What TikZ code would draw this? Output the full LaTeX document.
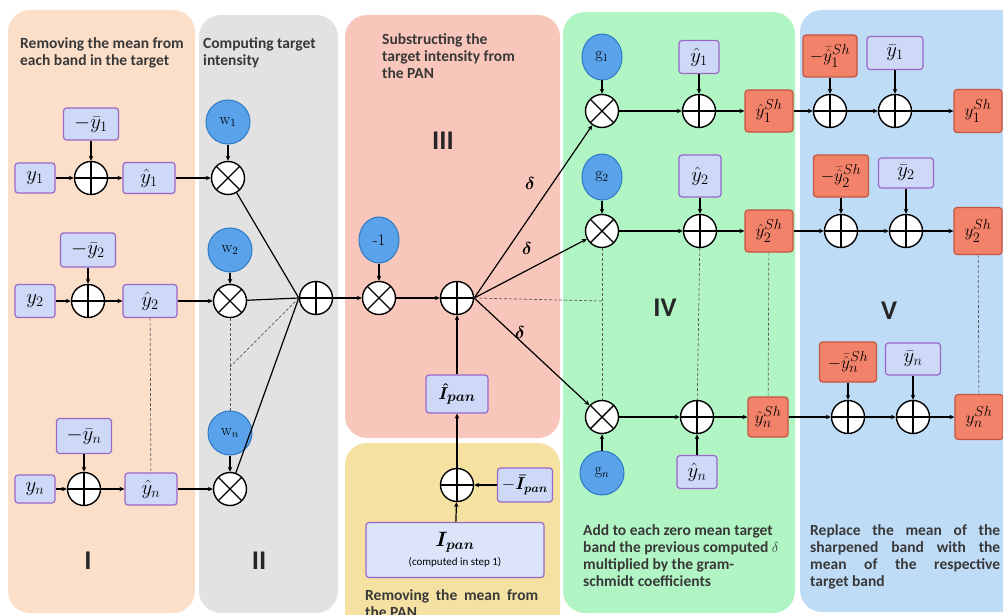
\documentclass[tikz,border=0pt]{standalone}
\usepackage{amsmath}
\usepackage{fontspec}
\newfontfamily\carl{Carlito}
\usetikzlibrary{shapes.geometric,arrows.meta}
\definecolor{pI}{HTML}{FCDFC9}
\definecolor{pII}{HTML}{E2E2E2}
\definecolor{pIII}{HTML}{F9C6BB}
\definecolor{pY}{HTML}{F5E2A3}
\definecolor{pIV}{HTML}{B2F5C5}
\definecolor{pV}{HTML}{BFDCF7}
\definecolor{bxf}{HTML}{CDD9F7}
\definecolor{bxd}{HTML}{9A66C8}
\definecolor{rdf}{HTML}{F2826A}
\definecolor{rdd}{HTML}{C4553F}
\definecolor{blf}{HTML}{5AA3EA}
\definecolor{bld}{HTML}{2C78C4}
\definecolor{txt}{HTML}{383838}
\begin{document}
\begin{tikzpicture}[x=1pt,y=-1pt,
 pbox/.style={draw=bxd,fill=bxf,line width=1.2pt,rounded corners=3pt,inner sep=0pt,font=\fontsize{21}{23}\selectfont},
 rbox/.style={draw=rdd,fill=rdf,line width=1.2pt,rounded corners=3pt,inner sep=0pt,font=\fontsize{19}{21}\selectfont},
 bcirc/.style={circle,draw=bld,fill=blf,line width=1pt,minimum size=44pt,inner sep=0pt,font=\fontsize{16}{18}\selectfont},
 bell/.style={ellipse,draw=bld,fill=blf,line width=1pt,minimum width=40pt,minimum height=46pt,inner sep=0pt,font=\fontsize{16}{18}\selectfont},
 opc/.style={circle,draw,fill=white,line width=1.4pt,minimum size=33pt,inner sep=0pt},
 oplus/.style={opc,path picture={\draw[line width=1.4pt] (path picture bounding box.north)--(path picture bounding box.south) (path picture bounding box.west)--(path picture bounding box.east);}},
 otimes/.style={opc,path picture={\draw[line width=1.4pt] (path picture bounding box.north west)--(path picture bounding box.south east) (path picture bounding box.north east)--(path picture bounding box.south west);}},
 arr/.style={-{Stealth[length=5pt,width=4.5pt]},line width=1.2pt},
 ln/.style={line width=1.2pt},
 dsh/.style={line width=0.7pt,draw=black!65,dash pattern=on 3pt off 2pt},
 ttl/.style={font=\carl\bfseries\fontsize{15.5}{17}\selectfont,text=txt,align=left,anchor=north west,inner sep=0pt},
 num/.style={font=\carl\bfseries\fontsize{27}{30}\selectfont,text=black!85},
 panel/.style={rounded corners=22pt}
]
\useasboundingbox (0,0) rectangle (1003,615);
\clip (0,0) rectangle (1003,615);
\fill[white] (0,0) rectangle (1003,615);
% panels
\fill[pI,panel] (8,10) rectangle (195,613);
\fill[pII,panel] (199,15) rectangle (338,613);
\fill[pIII,panel] (345,15) rectangle (560,438);
\fill[pY,panel] (345,443) rectangle (560,660);
\fill[pIV,panel] (563,12) rectangle (795,613);
\fill[pV,panel] (800,10) rectangle (1040,612);
% titles
\node[ttl] (t1) at (20,37) {Removing the mean from\\each band in the target};
\node[ttl] (t2) at (203,37) {Computing target\\intensity};
\node[ttl] (t3) at (382,33) {Substructing the\\target intensity from\\the PAN};
\node[ttl] (t4) at (583,524) {Add to each zero mean target\\band the previous computed $\delta$\\multiplied by the gram-\\schmidt coefficients};
\node[ttl] (t5) at (810,524) {\makebox[190pt][s]{Replace the mean of the}\\\makebox[190pt][s]{sharpened band with the}\\\makebox[190pt][s]{mean of the respective}\\target band};
\node[ttl] (t6) at (365,589) {\makebox[173pt][s]{Removing the mean from}\\the PAN};
% numerals
\node[num] (nI) at (88,561) {I};
\node[num] (nII) at (259,561) {II};
\node[num] (nIII) at (443,141) {III};
\node[num] (nIV) at (665,308) {IV};
\node[num] (nV) at (889,311) {V};
% stage I / II, row 1
\node[pbox,minimum width=40pt,minimum height=30pt] (y1) at (35,178) {$y_1$};
\node[oplus] (P1) at (91,178) {};
\node[pbox,minimum width=55pt,minimum height=32pt] (mb1) at (91,124) {$-\bar{y}_1$};
\node[pbox,minimum width=52pt,minimum height=31pt] (hy1) at (149,178) {$\hat{y}_1$};
\node[otimes] (O1) at (228,178) {};
\node[bcirc] (w1) at (228,122) {$\mathrm{w}_1$};
% row 2
\node[pbox,minimum width=40pt,minimum height=33pt] (y2) at (35,301) {$y_2$};
\node[oplus] (P2) at (88,301) {};
\node[pbox,minimum width=55pt,minimum height=34pt] (mb2) at (88,250) {$-\bar{y}_2$};
\node[pbox,minimum width=54pt,minimum height=33pt] (hy2) at (150,301) {$\hat{y}_2$};
\node[otimes] (O2) at (230,301) {};
\node[bcirc] (w2) at (230,250) {$\mathrm{w}_2$};
% row n
\node[pbox,minimum width=40pt,minimum height=28pt] (yn) at (35,489) {$y_n$};
\node[oplus] (Pn) at (84,489) {};
\node[pbox,minimum width=55pt,minimum height=35pt] (mbn) at (84,436) {$-\bar{y}_n$};
\node[pbox,minimum width=52pt,minimum height=32pt] (hyn) at (151,489) {$\hat{y}_n$};
\node[otimes] (On) at (230,489) {};
\node[bcirc] (wn) at (230,433) {$\mathrm{w}_n$};
% sum
\node[oplus] (S) at (316,298) {};
% stage III
\node[bell] (m1) at (379,240) {-1};
\node[otimes] (Om) at (379,298) {};
\node[oplus] (P3) at (457,298) {};
\node[pbox,font=\fontsize{19}{21}\selectfont,minimum width=62pt,minimum height=38pt] (hIp) at (457,394) {$\boldsymbol{\hat{I}_{pan}}$};
\node[oplus] (P4) at (457,485) {};
\node[pbox,font=\fontsize{18}{20}\selectfont,minimum width=55pt,minimum height=34pt] (mIp) at (525,485) {$-\boldsymbol{\bar{I}_{pan}}$};
\node[pbox,font=\fontsize{20}{22}\selectfont,fill=bxf!70!white,minimum width=178pt,minimum height=55pt,align=center] (Ipan) at (455,550) {$\boldsymbol{I_{pan}}$\\[-3pt]{\carl\fontsize{11}{13}\selectfont(computed in step 1)}};
% stage IV
\node[otimes] (OG1) at (602,111) {};
\node[bell] (g1) at (602,57) {$\mathrm{g}_1$};
\node[oplus] (PG1) at (699,111) {};
\node[pbox,minimum width=40pt,minimum height=33pt] (hg1) at (699,57) {$\hat{y}_1$};
\node[rbox,minimum width=48pt,minimum height=42pt] (R1) at (769,111) {$\hat{y}_1^{Sh}$};
\node[otimes] (OG2) at (602,231) {};
\node[bell] (g2) at (602,177) {$\mathrm{g}_2$};
\node[oplus] (PG2) at (700,231) {};
\node[pbox,minimum width=42pt,minimum height=42pt] (hg2) at (700,176) {$\hat{y}_2$};
\node[rbox,minimum width=48pt,minimum height=42pt] (R2) at (769,231) {$\hat{y}_2^{Sh}$};
\node[otimes] (OGn) at (602,417) {};
\node[bcirc] (gn) at (602,473) {$\mathrm{g}_n$};
\node[oplus] (PGn) at (697,417) {};
\node[pbox,minimum width=40pt,minimum height=33pt] (hgn) at (697,472) {$\hat{y}_n$};
\node[rbox,minimum width=40pt,minimum height=40pt] (Rn) at (768,417) {$\hat{y}_n^{Sh}$};
% stage V
\node[rbox,minimum width=54pt,minimum height=42pt] (mR1) at (830,56) {$-\bar{\hat{y}}_1^{Sh}$};
\node[oplus] (PV1) at (830,111) {};
\node[pbox,minimum width=56pt,minimum height=33pt] (bar1) at (895,53) {$\bar{y}_1$};
\node[oplus] (PW1) at (895,111) {};
\node[rbox,minimum width=48pt,minimum height=43pt] (Y1) at (978,111) {$y_1^{Sh}$};
\node[rbox,minimum width=55pt,minimum height=42pt] (mR2) at (841,176) {$-\bar{\hat{y}}_2^{Sh}$};
\node[oplus] (PV2) at (841,231) {};
\node[pbox,minimum width=55pt,minimum height=30pt] (bar2) at (906,173) {$\bar{y}_2$};
\node[oplus] (PW2) at (906,231) {};
\node[rbox,minimum width=48pt,minimum height=47pt] (Y2) at (978,231) {$y_2^{Sh}$};
\node[rbox,minimum width=57pt,minimum height=40pt] (mRn) at (848,362) {$-\bar{\hat{y}}_n^{Sh}$};
\node[oplus] (PVn) at (848,417) {};
\node[pbox,minimum width=55pt,minimum height=32pt] (barn) at (913,359) {$\bar{y}_n$};
\node[oplus] (PWn) at (913,417) {};
\node[rbox,minimum width=48pt,minimum height=45pt] (Yn) at (979,417) {$y_n^{Sh}$};
% connectors I/II
\draw[arr] (y1) -- (P1);
\draw[arr] (mb1) -- (P1);
\draw[arr] (P1) -- (hy1);
\draw[arr] (hy1) -- (O1);
\draw[arr] (w1) -- (O1);
\draw[arr] (y2) -- (P2);
\draw[arr] (mb2) -- (P2);
\draw[arr] (P2) -- (hy2);
\draw[arr] (hy2) -- (O2);
\draw[arr] (w2) -- (O2);
\draw[arr] (yn) -- (Pn);
\draw[arr] (mbn) -- (Pn);
\draw[arr] (Pn) -- (hyn);
\draw[arr] (hyn) -- (On);
\draw[arr] (wn) -- (On);
\draw[ln] (O1) -- (S.west);
\draw[ln] (O2) -- (S.west);
\draw[ln] (On) -- (S.west);
\coordinate (dj1) at (230,367);
\draw[dsh] (hy2) -- (hyn);
\draw[dsh] (O2) -- (wn);
\draw[dsh] (S.west) -- (dj1);
% III
\draw[arr] (S) -- (Om);
\draw[arr] (m1) -- (Om);
\draw[arr] (Om) -- (P3);
\draw[arr] (hIp) -- (P3);
\draw[arr] (P4) -- (hIp);
\draw[arr] (Ipan) -- (P4);
\draw[arr] (mIp) -- (P4);
\draw[arr] (P3.east) -- (OG1);
\draw[arr] (P3.east) -- (OG2);
\draw[arr] (P3.east) -- (OGn);
\coordinate (dj2) at (602,301);
\draw[dsh] (P3.east) -- (dj2);
\node[font=\fontsize{16}{18}\selectfont] (d1) at (530,183) {$\boldsymbol{\delta}$};
\node[font=\fontsize{16}{18}\selectfont] (d2) at (527,248) {$\boldsymbol{\delta}$};
\node[font=\fontsize{16}{18}\selectfont] (d3) at (520,332) {$\boldsymbol{\delta}$};
% IV
\draw[arr] (g1) -- (OG1);
\draw[arr] (OG1) -- (PG1);
\draw[arr] (hg1) -- (PG1);
\draw[arr] (PG1) -- (R1);
\draw[arr] (g2) -- (OG2);
\draw[arr] (OG2) -- (PG2);
\draw[arr] (hg2) -- (PG2);
\draw[arr] (PG2) -- (R2);
\draw[arr] (gn) -- (OGn);
\draw[arr] (OGn) -- (PGn);
\draw[arr] (hgn) -- (PGn);
\draw[arr] (PGn) -- (Rn);
\draw[dsh] (OG2) -- (OGn);
\draw[dsh] (PG2) -- (PGn);
\draw[dsh] (R2) -- (Rn);
% V
\draw[arr] (R1) -- (PV1);
\draw[arr] (mR1) -- (PV1);
\draw[arr] (PV1) -- (PW1);
\draw[arr] (bar1) -- (PW1);
\draw[arr] (PW1) -- (Y1);
\draw[arr] (R2) -- (PV2);
\draw[arr] (mR2) -- (PV2);
\draw[arr] (PV2) -- (PW2);
\draw[arr] (bar2) -- (PW2);
\draw[arr] (PW2) -- (Y2);
\draw[arr] (Rn) -- (PVn);
\draw[arr] (mRn) -- (PVn);
\draw[arr] (PVn) -- (PWn);
\draw[arr] (barn) -- (PWn);
\draw[arr] (PWn) -- (Yn);
\draw[dsh] (Y2) -- (Yn);
\end{tikzpicture}
\end{document}
